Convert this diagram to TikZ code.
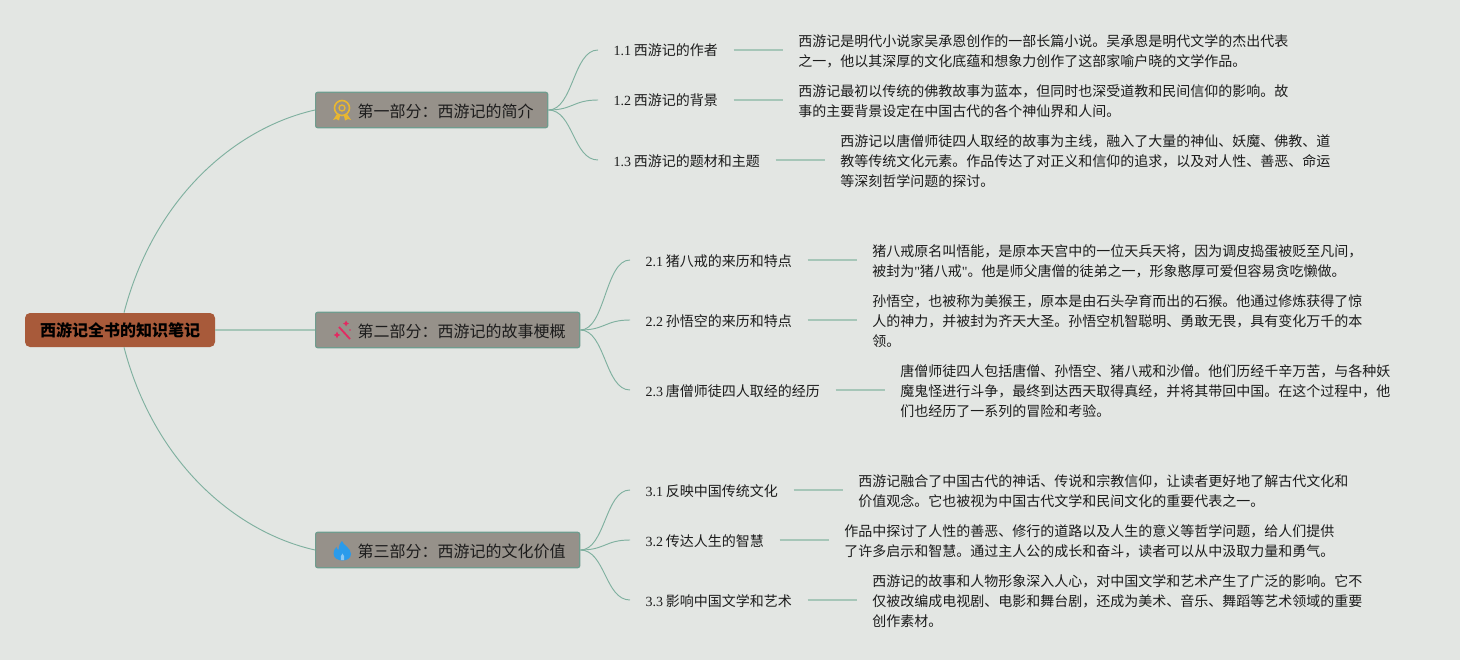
\documentclass[tikz,border=0pt]{standalone}
\usepackage{fontspec}
\setmainfont{Noto Sans CJK SC}
\newfontfamily\numfont{Liberation Serif}
\usetikzlibrary{calc, positioning}
\definecolor{pagebg}{HTML}{E3E6E3}
\definecolor{rootfill}{HTML}{A85A3A}
\definecolor{mainfill}{HTML}{96918A}
\definecolor{mainborder}{HTML}{6F9C8E}
\definecolor{curvecolor}{HTML}{7FB09F}
\definecolor{stemcolor}{HTML}{A6C6B8}
\definecolor{textcolor}{HTML}{1C1C1C}
\definecolor{medalcolor}{HTML}{E9B72F}
\definecolor{wandcolor}{HTML}{E22B62}
\definecolor{flamecolor}{HTML}{2A9BEB}

\begin{document}
\begin{tikzpicture}[
    x=0.75pt,
    y=-0.75pt,
    rootnode/.style={fill=rootfill, rounded corners=3.75pt, minimum width=142.5pt, minimum height=25.5pt, inner sep=0pt, font=\fontsize{12}{14}\selectfont\bfseries, text=black},
    mainnode/.style={draw=mainborder, fill=mainfill, rounded corners=1.5pt, line width=0.9pt, anchor=west, minimum height=26.5pt, inner xsep=10.6pt, inner ysep=0pt, text height=12pt, text depth=1.4pt, font=\fontsize{12}{14}\selectfont, text=textcolor},
    subnode/.style={anchor=west, inner xsep=11.6pt, inner ysep=2pt, text height=10pt, text depth=1pt, font=\fontsize{10.5}{15}\selectfont, text=textcolor},
    detailnode/.style={anchor=west, align=left, inner xsep=11.25pt, inner ysep=0pt, font=\fontsize{10.5}{15}\selectfont, text=textcolor},
    bigcurve/.style={draw=curvecolor, line width=0.7pt},
    branch/.style={draw=curvecolor, line width=0.7pt, to path={.. controls +(25,0) and +(-25,0) .. (\tikztotarget)}},
    stem/.style={draw=stemcolor, line width=1.1pt}
]

    % Page
    \fill[pagebg] (0,0) rectangle (1460,660);

    % Root and the three parts
    \node[rootnode] (root) at (120,330) {西游记全书的知识笔记};
    \node[mainnode] (partone) at (315,110) {\hspace*{20.9pt}第一部分：西游记的简介};
    \node[mainnode] (parttwo) at (315,330) {\hspace*{20.9pt}第二部分：西游记的故事梗概};
    \node[mainnode] (partthree) at (315,550) {\hspace*{20.9pt}第三部分：西游记的文化价值};

    % Part one
    \node[subnode] (subonea) at (598,50) {{\numfont 1.1\kern2pt}西游记的作者};
    \node[subnode] (suboneb) at (598,100) {{\numfont 1.2\kern2pt}西游记的背景};
    \node[subnode] (subonec) at (598,160) {{\numfont 1.3\kern2pt}西游记的题材和主题};
    \node[detailnode] (textonea) at (783,51) {西游记是明代小说家吴承恩创作的一部长篇小说。吴承恩是明代文学的杰出代表\\之一，他以其深厚的文化底蕴和想象力创作了这部家喻户晓的文学作品。};
    \node[detailnode] (textoneb) at (783,101) {西游记最初以传统的佛教故事为蓝本，但同时也深受道教和民间信仰的影响。故\\事的主要背景设定在中国古代的各个神仙界和人间。};
    \node[detailnode] (textonec) at (825,161.5) {西游记以唐僧师徒四人取经的故事为主线，融入了大量的神仙、妖魔、佛教、道\\教等传统文化元素。作品传达了对正义和信仰的追求，以及对人性、善恶、命运\\等深刻哲学问题的探讨。};

    % Part two
    \node[subnode] (subtwoa) at (630,260) {{\numfont 2.1\kern2pt}猪八戒的来历和特点};
    \node[subnode] (subtwob) at (630,320) {{\numfont 2.2\kern2pt}孙悟空的来历和特点};
    \node[subnode] (subtwoc) at (630,390) {{\numfont 2.3\kern2pt}唐僧师徒四人取经的经历};
    \node[detailnode] (texttwoa) at (857,261) {猪八戒原名叫悟能，是原本天宫中的一位天兵天将，因为调皮捣蛋被贬至凡间，\\被封为{\numfont "}猪八戒{\numfont "}。他是师父唐僧的徒弟之一，形象憨厚可爱但容易贪吃懒做。};
    \node[detailnode] (texttwob) at (857,321) {孙悟空，也被称为美猴王，原本是由石头孕育而出的石猴。他通过修炼获得了惊\\人的神力，并被封为齐天大圣。孙悟空机智聪明、勇敢无畏，具有变化万千的本\\领。};
    \node[detailnode] (texttwoc) at (885,391) {唐僧师徒四人包括唐僧、孙悟空、猪八戒和沙僧。他们历经千辛万苦，与各种妖\\魔鬼怪进行斗争，最终到达西天取得真经，并将其带回中国。在这个过程中，他\\们也经历了一系列的冒险和考验。};

    % Part three
    \node[subnode] (subthreea) at (630,490) {{\numfont 3.1\kern2pt}反映中国传统文化};
    \node[subnode] (subthreeb) at (630,540) {{\numfont 3.2\kern2pt}传达人生的智慧};
    \node[subnode] (subthreec) at (630,600) {{\numfont 3.3\kern2pt}影响中国文学和艺术};
    \node[detailnode] (textthreea) at (843,491) {西游记融合了中国古代的神话、传说和宗教信仰，让读者更好地了解古代文化和\\价值观念。它也被视为中国古代文学和民间文化的重要代表之一。};
    \node[detailnode] (textthreeb) at (829,541) {作品中探讨了人性的善恶、修行的道路以及人生的意义等哲学问题，给人们提供\\了许多启示和智慧。通过主人公的成长和奋斗，读者可以从中汲取力量和勇气。};
    \node[detailnode] (textthreec) at (857,601) {西游记的故事和人物形象深入人心，对中国文学和艺术产生了广泛的影响。它不\\仅被改编成电视剧、电影和舞台剧，还成为美术、音乐、舞蹈等艺术领域的重要\\创作素材。};

    % Root connectors
    \draw[bigcurve] ([xshift=3pt]root.north) .. controls +(30,-115) and +(-80,18) .. (partone.west);
    \draw[bigcurve] ([xshift=3pt]root.south) .. controls +(30,115) and +(-80,-18) .. (partthree.west);
    \draw[stem] (root.east) -- (parttwo.west);

    % Part connectors
    \draw[branch] (partone.east) to (subonea.west);
    \draw[branch] (partone.east) to (suboneb.west);
    \draw[branch] (partone.east) to (subonec.west);
    \draw[branch] (parttwo.east) to (subtwoa.west);
    \draw[branch] (parttwo.east) to (subtwob.west);
    \draw[branch] (parttwo.east) to (subtwoc.west);
    \draw[branch] (partthree.east) to (subthreea.west);
    \draw[branch] (partthree.east) to (subthreeb.west);
    \draw[branch] (partthree.east) to (subthreec.west);

    % Stems to the texts
    \draw[stem] (subonea.east) -- (subonea.east -| textonea.west);
    \draw[stem] (suboneb.east) -- (suboneb.east -| textoneb.west);
    \draw[stem] (subonec.east) -- (subonec.east -| textonec.west);
    \draw[stem] (subtwoa.east) -- (subtwoa.east -| texttwoa.west);
    \draw[stem] (subtwob.east) -- (subtwob.east -| texttwob.west);
    \draw[stem] (subtwoc.east) -- (subtwoc.east -| texttwoc.west);
    \draw[stem] (subthreea.east) -- (subthreea.east -| textthreea.west);
    \draw[stem] (subthreeb.east) -- (subthreeb.east -| textthreeb.west);
    \draw[stem] (subthreec.east) -- (subthreec.east -| textthreec.west);

    % Medal icon
    \draw[medalcolor, line width=1.2pt] (342,108) circle (7.5);
    \draw[medalcolor, line width=1pt] (342,108) circle (3);
    \fill[medalcolor] (337,114) -- (340,116) -- (339,120.5) -- (336,119) -- (333,120) -- cycle;
    \fill[medalcolor] (347,114) -- (344,116) -- (345,120.5) -- (348,119) -- (351,120) -- cycle;

    % Wand icon
    \draw[wandcolor, line width=1.4pt] (339,327) -- (350,339);
    \fill[wandcolor] (337,331.5) -- (338.2,334) -- (340.5,335) -- (338.2,336) -- (337,338.5) -- (335.8,336) -- (333.5,335) -- (335.8,334) -- cycle;
    \fill[wandcolor] (346,320.5) -- (347,322.5) -- (349,323.5) -- (347,324.5) -- (346,326.5) -- (345,324.5) -- (343,323.5) -- (345,322.5) -- cycle;
    \fill[wandcolor] (350,330) circle (0.9);

    % Flame icon
    \fill[flamecolor] (342,541) .. controls (343,545) and (351,548) .. (351,554) .. controls (351,558) and (347,560.5) .. (342.5,560.5) .. controls (338,560.5) and (333.5,558) .. (333.5,553.5) .. controls (333.5,550.5) and (335,548.5) .. (336.5,547) .. controls (336.8,548.5) and (337.5,549.5) .. (338.5,550) .. controls (338.5,546.5) and (340,543) .. (342,541) -- cycle;
    \fill[flamecolor!55!white] (342.5,553.5) .. controls (344,555.5) and (345,557) .. (344,560) -- (341,560) .. controls (340,557) and (341,555.5) .. (342.5,553.5) -- cycle;

\end{tikzpicture}
\end{document}
